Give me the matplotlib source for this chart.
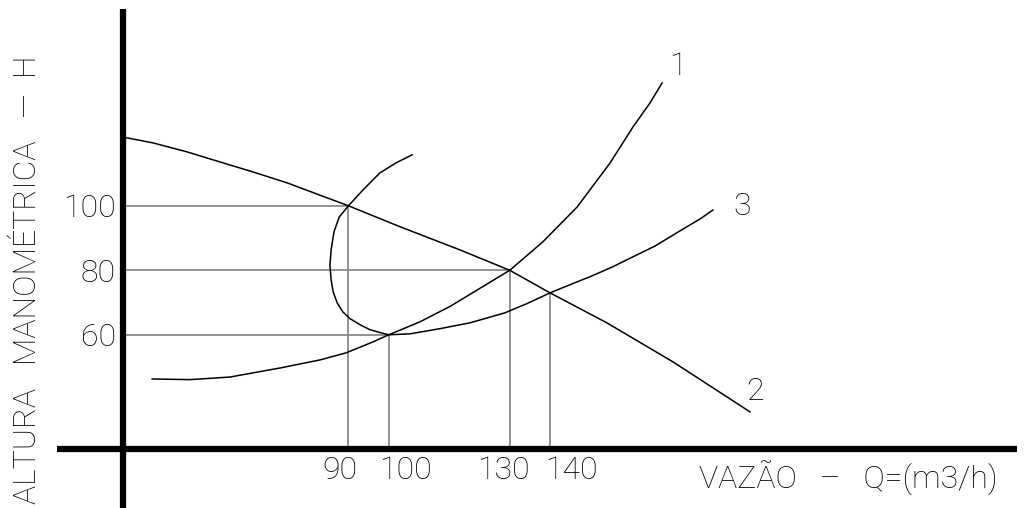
import matplotlib.pyplot as plt

# curva 1 (sistema, mais íngreme)
q1 = [41.3, 50.7, 60.6, 73.0, 82.9, 89.4, 96.1, 100, 107.7, 115.2, 122.6, 130,
      138.2, 146.7, 154.9, 160.6, 164.8, 167.8]
h1 = [46.3, 46.1, 46.9, 49.7, 52.2, 54.4, 57.8, 60, 64.0, 68.8, 74.4, 80,
      88.8, 99.6, 113.3, 124.5, 131.9, 138.1]

# curva 2 (bomba)
q2 = [34.1, 41.5, 50.0, 58.1, 66.3, 74.8, 82.9, 90, 102.8, 117.7, 130, 140,
      154.1, 170.5, 189.6]
h2 = [121.3, 119.5, 116.7, 113.6, 110.5, 107.1, 103.3, 100, 93.5, 86.3, 80, 73,
      63.7, 51.6, 36.1]

# curva 3
q3 = [105.8, 101.8, 97.8, 93.6, 90, 87.7, 86.4, 85.7, 85.4, 85.7, 86.2, 87.2,
      88.6, 90.4, 92.9, 95.3, 97.8, 100, 105.3, 112.7, 120.1, 128.8, 134.5, 140,
      144.9, 149.9, 155.4, 160.6, 166.0, 172.2, 177.2, 180.4]
h3 = [115.8, 113.3, 110.2, 104.9, 100, 96.5, 91.9, 86.3, 81.6, 77.0, 73.3, 69.9,
      67.1, 65.0, 63.1, 61.6, 60.7, 60, 60.3, 61.9, 63.7, 66.8, 69.8, 73,
      75.5, 78.0, 81.0, 84.2, 87.5, 92.2, 95.9, 98.7]

# pontos de operação
op_q = [90, 100, 130, 140]
op_h = [100, 60, 80, 73]
ytick_vals = [100, 80, 60]
xtick_labels = ['90', '100', '130', '140']

plt.rcParams['font.family'] = ['Roboto', 'DejaVu Sans']

fig = plt.figure(figsize=(10.27, 5.08), dpi=100)
ax = fig.add_axes([0, 0, 1, 1])
ax.set_xlim(3.57, 258.3)
ax.set_ylim(6.3, 163.8)
ax.axis('off')

q_axis = 34.1
h_axis = 24.7

# linhas de chamada
for q, h in zip(op_q, op_h):
    ax.plot([q, q], [h_axis, h], color='#8a8a8a', lw=1.3, zorder=1)
    if h in ytick_vals:
        ax.plot([q_axis, q], [h, h], color='#8a8a8a', lw=1.3, zorder=1)

# curvas
for q, h in [(q1, h1), (q2, h2), (q3, h3)]:
    ax.plot(q, h, color='black', lw=1.1, zorder=2)

# eixos
ax.plot([q_axis, q_axis], [0, 161.0], color='black', lw=4.5, solid_capstyle='butt', zorder=3)
ax.plot([17.7, 255.8], [h_axis, h_axis], color='black', lw=4.5, solid_capstyle='butt', zorder=3)

fs = 23
kw = dict(fontsize=fs, fontweight='light')
for v in ytick_vals:
    ax.text(32.3, v, str(v), ha='right', va='center_baseline', **kw)
x_off = [-2.1, 4.2, -1.5, 5.2]
for q, lab, dx in zip(op_q, xtick_labels, x_off):
    ax.text(q + dx, 19.0, lab, ha='center', va='center_baseline', **kw)

ax.text(171.7, 140.6, '1', ha='center', va='baseline', **kw)
ax.text(187.6, 97.1, '3', ha='center', va='baseline', **kw)
ax.text(190.8, 39.8, '2', ha='center', va='baseline', **kw)

fig.text(0.027, 0.449, 'ALTURA   MANOMÉTRICA   —  H', rotation=90, ha='center',
         va='center', **kw)
fig.text(0.826, 0.065, 'VAZÃO   –   Q=(m3/h)', ha='center', va='center_baseline', **kw)

fig.savefig('out.png', dpi=100)
